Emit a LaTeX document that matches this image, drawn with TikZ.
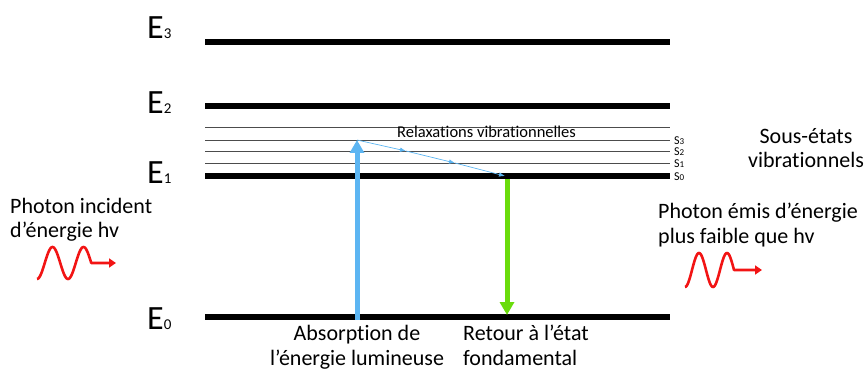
\documentclass[tikz,border=0pt]{standalone}
\usepackage{fontspec}
\setmainfont{Carlito}[Ligatures=NoCommon]
\usetikzlibrary{arrows.meta,positioning,calc}
\definecolor{absblue}{HTML}{5CB5F2}
\definecolor{emitgreen}{HTML}{6ADC0C}
\definecolor{photonred}{HTML}{F21414}
\tikzset{level/.style={line width=5.5pt},sublevel/.style={line width=.7pt,black!70},elabel/.style={inner sep=0pt,anchor=base west,font=\fontsize{34}{34}\selectfont},slabel/.style={inner sep=0pt,anchor=west,font=\fontsize{12}{12}\selectfont},caption/.style={inner sep=0pt,font=\fontsize{22}{24.5}\selectfont},transition/.style={line width=5pt,-{Triangle[width=14pt,length=13pt]}},relax/.style={absblue,line width=.7pt,-{Latex[length=6pt,width=4.5pt]}},photon/.style={photonred,line width=2.6pt,line join=round,-{Triangle[width=9pt,length=7pt]}},every picture/.style={line cap=butt}}

\begin{document}
\begin{tikzpicture}[x=1pt,y=1pt]
\useasboundingbox (0,0) rectangle (868,378);
\foreach \k/\y/\b in {0/61/49,1/202/194,2/272/264,3/336/339}{
\coordinate (e\k w) at (205,\y);
\coordinate (e\k e) at (670,\y);
\draw[level] (e\k w)--(e\k e);
\node[elabel] (E\k) at (147,\b) {E{\fontsize{15}{15}\selectfont\k}};
}
\foreach \k/\y in {1/215,2/227,3/238,4/251}{
\coordinate (s\k w) at (205,\y);
\coordinate (s\k e) at (670,\y);
\draw[sublevel] (s\k w)--(s\k e);
}
\foreach \k/\y in {0/202,1/215,2/227,3/238}{
\node[slabel] (S\k) at (674,\y-1) {S{\fontsize{9}{9}\selectfont\k}};
}
\node[inner sep=0pt,anchor=base west,font=\fontsize{16.5}{16.5}\selectfont] (relaxtxt) at (397,240) {Relaxations vibrationnelles};
\coordinate (r3) at (357,238);
\coordinate (r2) at (406,227);
\coordinate (r1) at (455,215);
\coordinate (r0) at (505,202);
\draw[transition,absblue] (357,58) coordinate (absfoot) -- (r3);
\draw[relax] (r3)--(r2);
\draw[relax] (r2)--(r1);
\draw[relax] (r1)--(r0);
\coordinate (emtop) at (507,199);
\coordinate (emfoot) at (507,63);
\draw[transition,emitgreen] (emtop)--(emfoot);
\node[caption,align=left,anchor=base west] (incident) at (10,140) {Photon incident\\d’énergie hv};
\node[caption,align=left,anchor=base west] (emitted) at (658,135) {Photon émis d’énergie\\plus faible que hv};
\node[caption,align=center,anchor=base] (sousetats) at (806,210) {Sous-états\\vibrationnels};
\node[caption,align=center,anchor=base] (abstxt) at (357,13) {Absorption de\\l’énergie lumineuse};
\node[caption,align=left,anchor=base west] (retourtxt) at (463,13) {Retour à l’état\\fondamental};
\coordinate (wine) at (116,115);
\draw[photon] plot[domain=37:91.25,samples=80] (\x,{115-16*cos(11.613*(\x-37))}) -- (wine);
\coordinate (woute) at (762,108);
\draw[photon] plot[domain=685:734,samples=80] (\x,{108-17*cos(12.857*(\x-685))}) -- (woute);
\end{tikzpicture}
\end{document}
